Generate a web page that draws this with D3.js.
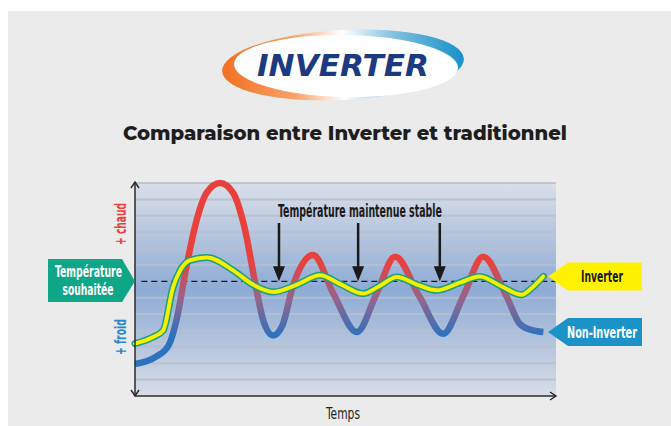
<!DOCTYPE html>
<html>
<head>
<meta charset="utf-8">
<script src="https://cdn.jsdelivr.net/npm/d3@7"></script>
<style>
  html, body { margin: 0; padding: 0; background: #ffffff; }
  svg { display: block; }
  .cond { font-family: "DejaVu Sans Condensed", "Liberation Sans Narrow", "Roboto", sans-serif; font-stretch: condensed; }
</style>
</head>
<body>
<svg id="chart" width="671" height="426"></svg>
<script>
// Time (0–100) and temperature offsets from the set point (0)
const nonInverterTime = [0, 5, 8, 10, 12, 14.5, 17, 20.2, 23.3, 26, 28.7, 30.6, 32.8, 35, 37.5, 42.3, 47.2, 52.7, 57.3, 61.8, 67.5, 73.2, 78, 82.7, 88.3, 91.4, 94.5, 97];
const nonInverterTemp = [-5.05, -4.6, -3.9, -2.2, 0.6, 3.6, 5.4, 6.0, 5.4, 3.3, -0.3, -2.5, -3.3, -2.7, -0.3, 1.6, -0.8, -3.1, -0.8, 1.5, -0.9, -3.2, -0.9, 1.5, -0.95, -2.6, -3.0, -3.1];

const inverterTime = [0, 4.3, 6.7, 9.0, 10.7, 13, 17.1, 23.3, 28, 32.9, 38.5, 43.9, 49, 54.2, 58, 62.2, 67, 71.7, 77, 81.9, 87, 91.8, 94.5, 97];
const inverterTemp = [-3.8, -3.4, -3.0, -0.4, 0.65, 1.28, 1.46, 0.67, -0.2, -0.65, -0.2, 0.37, -0.2, -0.75, -0.3, 0.26, -0.2, -0.55, -0.1, 0.3, -0.3, -0.82, -0.35, 0.3];

const stableMarks = [34.2, 53.0, 72.4];
const tempTicks = d3.range(-6, 7);          // guide lines across the plot
const setPoint = 0;

const title = "Comparaison entre Inverter et traditionnel";
const xLabel = "Temps";
const hotLabel = "+ chaud";
const coldLabel = "+ froid";
const stableLabel = "Température maintenue stable";
const targetLabel = ["Température", "souhaitée"];
const seriesLabels = ["Inverter", "Non-Inverter"];

const svg = d3.select("#chart");
const W = 671, H = 426;

// page background
svg.append("rect").attr("x", 8).attr("y", 11).attr("width", W - 8).attr("height", H - 11).attr("fill", "#ebebeb");

const defs = svg.append("defs");

// narrow label helper: draws the text centred on (px, py) and scales it
// horizontally so that it spans the given width
function label(px, py, str, size, fill, width, weight, rotate) {
  const g = svg.append("g");
  const t = g.append("text").attr("class", "cond")
    .attr("x", 0).attr("y", 0)
    .attr("text-anchor", "middle")
    .attr("font-size", size).attr("font-weight", weight || "bold")
    .attr("fill", fill).text(str);
  const natural = t.node().getComputedTextLength();
  const k = width && natural ? width / natural : 1;
  g.attr("transform", `translate(${px},${py})` + (rotate ? ` rotate(${rotate})` : "") + ` scale(${k},1)`);
  return g;
}

// ---- logo ----
const logoGrad = defs.append("linearGradient").attr("id", "logoGrad")
  .attr("x1", "0%").attr("y1", "0%").attr("x2", "100%").attr("y2", "0%");
logoGrad.append("stop").attr("offset", "0%").attr("stop-color", "#f26f21");
logoGrad.append("stop").attr("offset", "30%").attr("stop-color", "#f7a46b");
logoGrad.append("stop").attr("offset", "50%").attr("stop-color", "#ffffff");
logoGrad.append("stop").attr("offset", "72%").attr("stop-color", "#7fbfe0");
logoGrad.append("stop").attr("offset", "100%").attr("stop-color", "#1790c8");

const logo = svg.append("g").attr("transform", "translate(343,65)");
logo.append("ellipse").attr("rx", 121).attr("ry", 35).attr("fill", "url(#logoGrad)")
  .attr("transform", "rotate(-3)");
logo.append("ellipse").attr("rx", 112).attr("ry", 31).attr("fill", "#ffffff")
  .attr("transform", "translate(3,1) rotate(1)");
logo.append("text").attr("x", 0).attr("y", 11)
  .attr("text-anchor", "middle")
  .attr("font-family", "'DejaVu Sans', Lato, sans-serif")
  .attr("font-weight", 900).attr("font-style", "italic")
  .attr("font-size", 31).attr("fill", "#1b3a80")
  .attr("textLength", 172).attr("lengthAdjust", "spacingAndGlyphs")
  .text("INVERTER");

// ---- title ----
svg.append("text").attr("x", 345).attr("y", 140)
  .attr("text-anchor", "middle")
  .attr("font-family", "Montserrat, 'Open Sans', 'DejaVu Sans', sans-serif")
  .attr("font-weight", 800).attr("font-size", 19).attr("fill", "#1e1e1e")
  .attr("textLength", 444).attr("lengthAdjust", "spacingAndGlyphs")
  .text(title);

// ---- scales ----
const x = d3.scaleLinear().domain([0, 100]).range([135, 556]);
const y = d3.scaleLinear().domain([-7, 6]).range([396, 183]);

// plot background gradient
const bgGrad = defs.append("linearGradient").attr("id", "bgGrad")
  .attr("x1", 0).attr("y1", 0).attr("x2", 0).attr("y2", 1);
bgGrad.append("stop").attr("offset", "0%").attr("stop-color", "#dadfe8");
bgGrad.append("stop").attr("offset", "50%").attr("stop-color", "#8eabd5");
bgGrad.append("stop").attr("offset", "100%").attr("stop-color", "#d8dde6");

svg.append("rect").attr("x", x(0)).attr("y", y(6)).attr("width", x(100) - x(0)).attr("height", y(-7) - y(6))
  .attr("fill", "url(#bgGrad)");

// guide lines
svg.append("g").selectAll("line").data(tempTicks.filter(d => d !== setPoint)).join("line")
  .attr("x1", x(0)).attr("x2", x(100))
  .attr("y1", d => y(d)).attr("y2", d => y(d))
  .attr("stroke", "#b7c0ce").attr("stroke-width", 2).attr("opacity", 0.85);

// set point dashed line
svg.append("line").attr("x1", x(1.5)).attr("x2", x(100)).attr("y1", y(setPoint)).attr("y2", y(setPoint))
  .attr("stroke", "#1a1a1a").attr("stroke-width", 1.3).attr("stroke-dasharray", "6,4");

// ---- curves ----
const line = d3.line().x(d => x(d[0])).y(d => y(d[1])).curve(d3.curveMonotoneX);

const nonInv = nonInverterTime.map((t, i) => [t, nonInverterTemp[i]]);
const inv = inverterTime.map((t, i) => [t, inverterTemp[i]]);

const lineGrad = defs.append("linearGradient").attr("id", "lineGrad")
  .attr("gradientUnits", "userSpaceOnUse")
  .attr("x1", 0).attr("x2", 0).attr("y1", y(1.2)).attr("y2", y(-3.3));
lineGrad.append("stop").attr("offset", "0%").attr("stop-color", "#e8413c");
lineGrad.append("stop").attr("offset", "50%").attr("stop-color", "#96648c");
lineGrad.append("stop").attr("offset", "100%").attr("stop-color", "#2e72bd");

svg.append("path").attr("d", line(nonInv)).attr("fill", "none")
  .attr("stroke", "url(#lineGrad)").attr("stroke-width", 6.5).attr("stroke-linecap", "butt");

svg.append("path").attr("d", line(inv)).attr("fill", "none")
  .attr("stroke", "#1a9f7f").attr("stroke-width", 7).attr("stroke-linecap", "round");
svg.append("path").attr("d", line(inv)).attr("fill", "none")
  .attr("stroke", "#f7ef00").attr("stroke-width", 4).attr("stroke-linecap", "round");

// ---- axes ----
const axisColor = "#2b2b2b";
svg.append("line").attr("x1", x(0)).attr("x2", x(0)).attr("y1", y(6) - 1).attr("y2", y(-7))
  .attr("stroke", axisColor).attr("stroke-width", 1.5);
svg.append("line").attr("x1", x(0)).attr("x2", x(100)).attr("y1", y(-7)).attr("y2", y(-7))
  .attr("stroke", axisColor).attr("stroke-width", 1.5);
const chev = (pts) => svg.append("polyline").attr("points", pts.map(p => p.join(",")).join(" "))
  .attr("fill", "none").attr("stroke", axisColor).attr("stroke-width", 1.5);
chev([[x(0) - 4, y(6) + 5], [x(0), y(6) - 1], [x(0) + 4, y(6) + 5]]);
chev([[x(0) - 4, y(-7) - 6], [x(0), y(-7)], [x(0) + 4, y(-7) - 6]]);
chev([[x(100) - 6, y(-7) - 4], [x(100), y(-7)], [x(100) - 6, y(-7) + 4]]);

label(343, 419, xLabel, 15, "#1e1e1e", 34, "normal");

// hot / cold
label(125.5, y(3.5), hotLabel, 16, "#e8413c", 42, "bold", -90);
label(125.5, y(-3.4), coldLabel, 16, "#2a8ac8", 36, "bold", -90);

// ---- stable markers ----
label(360, 217, stableLabel, 17, "#1a1a1a", 164, "bold");

const arrows = svg.append("g").selectAll("g").data(stableMarks).join("g")
  .attr("transform", d => `translate(${x(d)},0)`);
arrows.append("line").attr("x1", 0).attr("x2", 0).attr("y1", 223).attr("y2", y(setPoint) - 12)
  .attr("stroke", "#1a1a1a").attr("stroke-width", 2.5);
arrows.append("path")
  .attr("d", `M-6,${y(setPoint) - 15} L6,${y(setPoint) - 15} L0,${y(setPoint)} Z`)
  .attr("fill", "#1a1a1a");

// ---- tags ----
function tag(points, fill) {
  svg.append("polygon").attr("points", points.map(p => p.join(",")).join(" ")).attr("fill", fill);
}
// set point tag (pointing right, into the axis)
const ty = y(setPoint);
tag([[48, 259], [122, 259], [135, ty], [122, 302], [48, 302]], "#0fa587");
label(88.5, 277, targetLabel[0], 16, "#ffffff", 67, "bold");
label(88, 295, targetLabel[1], 16, "#ffffff", 51, "bold");

// series tags (pointing left, at the end of each curve)
const invEnd = y(inv[inv.length - 1][1]);
const nonEnd = y(nonInv[nonInv.length - 1][1]);
tag([[548, invEnd], [568, invEnd - 14], [642, invEnd - 14], [642, invEnd + 14], [568, invEnd + 14]], "#fff200");
label(602, invEnd + 6, seriesLabels[0], 16.5, "#1a1a1a", 42, "bold");
tag([[548, nonEnd], [568, nonEnd - 14], [642, nonEnd - 14], [642, nonEnd + 14], [568, nonEnd + 14]], "#1b93c9");
label(602, nonEnd + 6, seriesLabels[1], 16.5, "#ffffff", 70, "bold");
</script>
</body>
</html>
